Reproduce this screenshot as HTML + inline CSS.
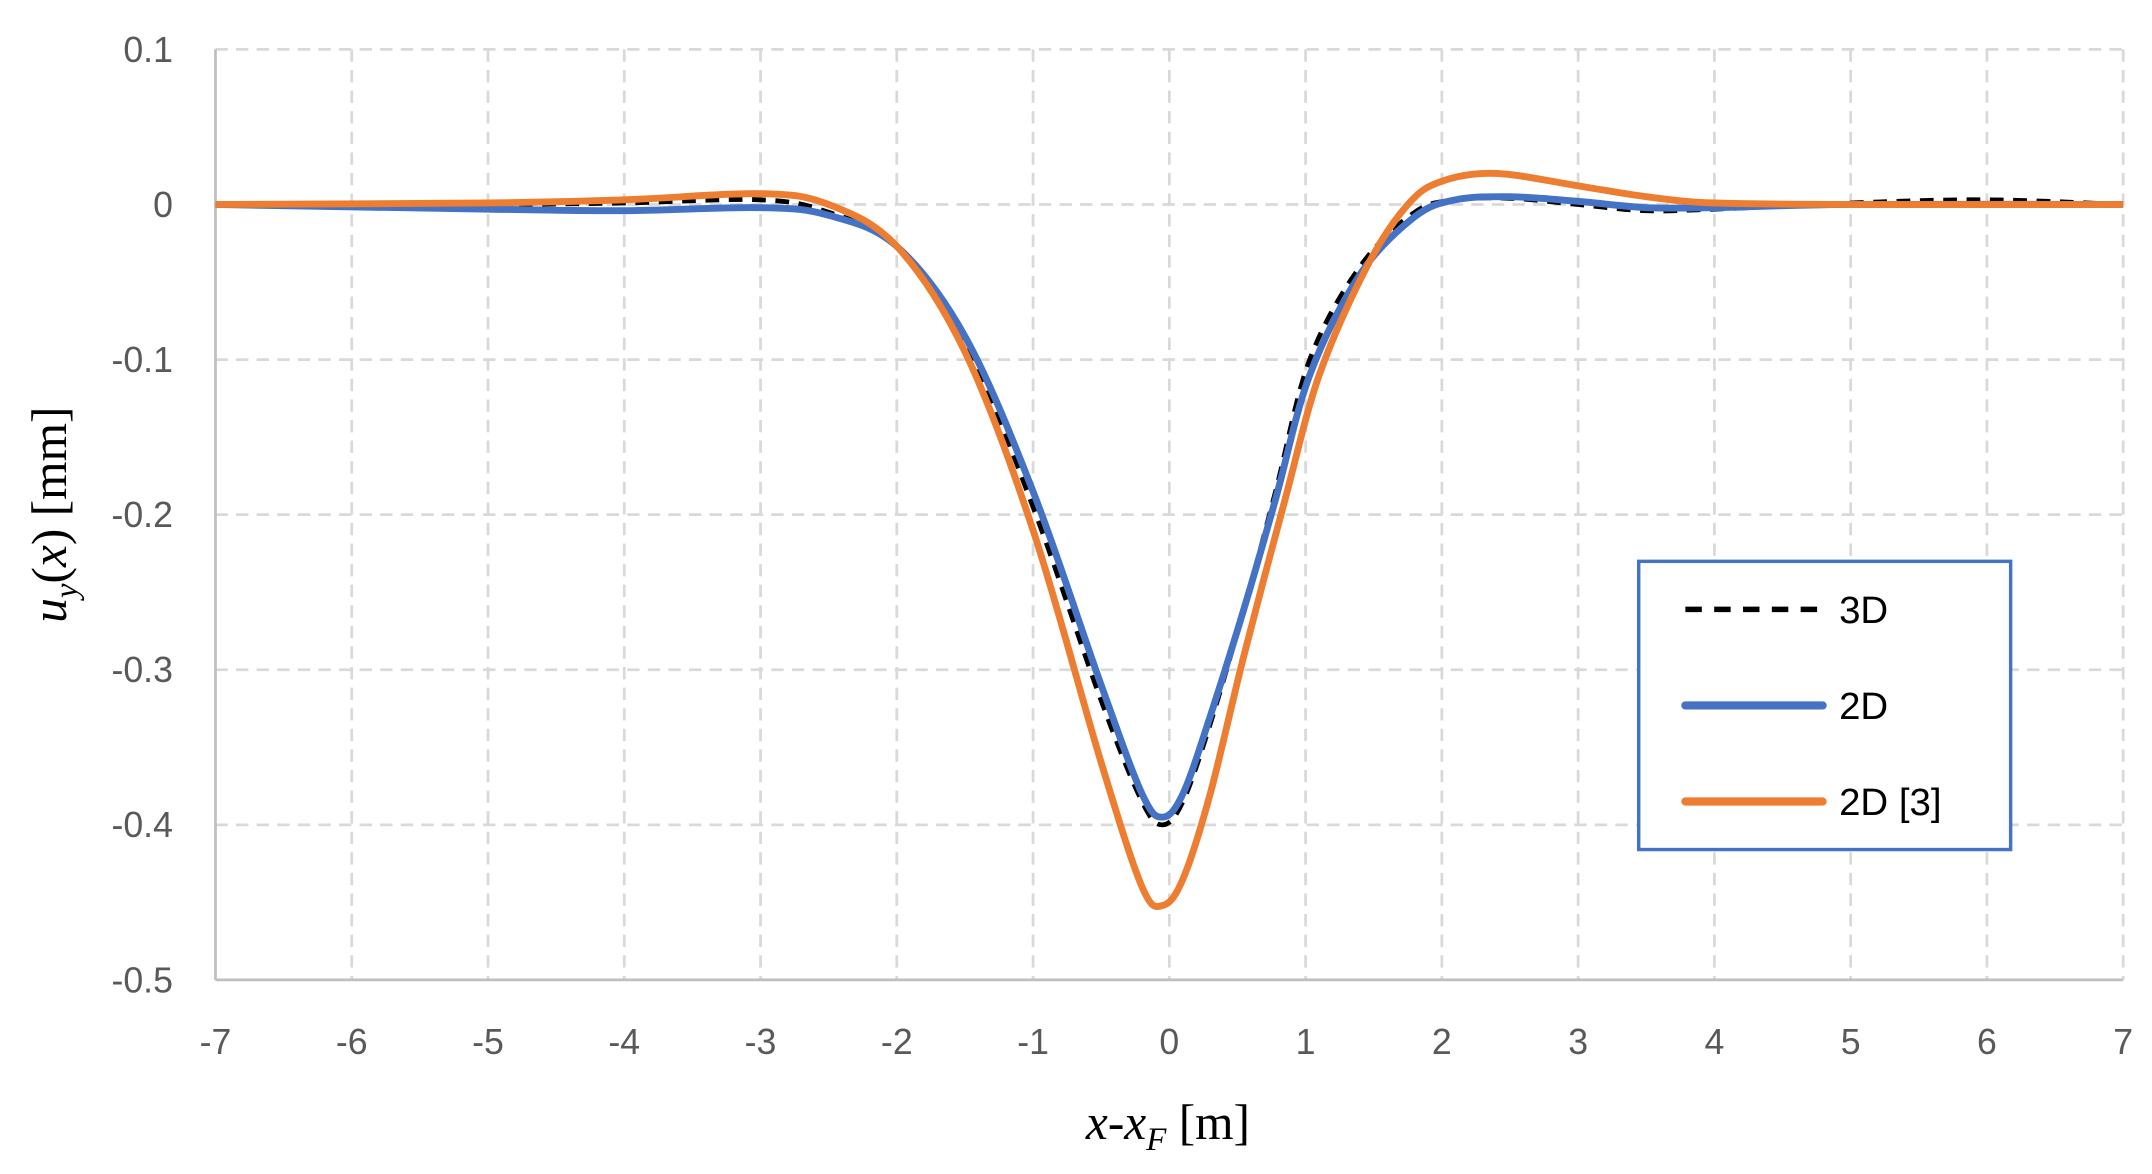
<!DOCTYPE html>
<html><head><meta charset="utf-8"><style>
html,body{margin:0;padding:0;background:#fff;}
svg{display:block;}
</style></head><body>
<svg id="s" width="2152" height="1174" viewBox="0 0 1568 855.4" preserveAspectRatio="none" xmlns="http://www.w3.org/2000/svg">
<g id="grid" stroke="#d9d9d9" stroke-width="2" stroke-dasharray="9,6" fill="none"></g>
<line x1="157" y1="36" x2="157" y2="714" stroke="#bfbfbf" stroke-width="2"/>
<line x1="157" y1="714" x2="1547" y2="714" stroke="#bfbfbf" stroke-width="2"/>
<g id="labels" font-family="Liberation Sans, sans-serif" font-size="26" fill="#595959"></g>
<path id="pk" fill="none" stroke="#000" stroke-width="3.5" stroke-dasharray="10,7"/>
<path id="pb" fill="none" stroke="#4472c4" stroke-width="5"/>
<path id="po" fill="none" stroke="#ed7d31" stroke-width="5"/>
<rect x="1194" y="409" width="271" height="210" fill="#fff" stroke="#4472c4" stroke-width="2.5"/>
<line x1="1228" y1="444" x2="1328" y2="444" stroke="#000" stroke-width="4" stroke-dasharray="12,9"/>
<line x1="1228" y1="514" x2="1328" y2="514" stroke="#4472c4" stroke-width="6" stroke-linecap="round"/>
<line x1="1228" y1="584" x2="1328" y2="584" stroke="#ed7d31" stroke-width="6" stroke-linecap="round"/>
<g font-family="Liberation Sans, sans-serif" font-size="28" fill="#000">
<text x="1340" y="454">3D</text><text x="1340" y="524">2D</text><text x="1340" y="594">2D [3]</text>
</g>
<text x="851" y="830" text-anchor="middle" font-family="Liberation Serif, serif" font-size="36" fill="#000"><tspan font-style="italic">x</tspan>-<tspan font-style="italic">x</tspan><tspan font-style="italic" font-size="24" dy="8">F</tspan><tspan dy="-8"> [m]</tspan></text>
<text transform="translate(48,375) rotate(-90)" text-anchor="middle" font-family="Liberation Serif, serif" font-size="36" fill="#000"><tspan font-style="italic">u</tspan><tspan font-style="italic" font-size="24" dy="8">y</tspan><tspan dy="-8">(</tspan><tspan font-style="italic">x</tspan>) [mm]</text>
</svg>
<script>
var NS="http://www.w3.org/2000/svg";
var SX=1390/14;
function X(x){return 157+SX*(x+7);}
function Y(u){return 149-1130*u;}
var g=document.getElementById('grid'),L=document.getElementById('labels');
for(var i=-6;i<=7;i++){var l=document.createElementNS(NS,'line');l.setAttribute('x1',X(i));l.setAttribute('x2',X(i));l.setAttribute('y1',36);l.setAttribute('y2',714);g.appendChild(l);}
for(var j=-4;j<=1;j++){var l=document.createElementNS(NS,'line');l.setAttribute('x1',157);l.setAttribute('x2',1547);l.setAttribute('y1',Y(j/10));l.setAttribute('y2',Y(j/10));g.appendChild(l);}
for(var i=-7;i<=7;i++){var t=document.createElementNS(NS,'text');t.setAttribute('x',X(i));t.setAttribute('y',768);t.setAttribute('text-anchor','middle');t.textContent=(i<0?'-'+(-i):''+i);L.appendChild(t);}
var yl=['0.1','0','-0.1','-0.2','-0.3','-0.4','-0.5'];
for(var j=0;j<7;j++){var t=document.createElementNS(NS,'text');t.setAttribute('x',126);t.setAttribute('y',Y((1-j)/10)+9);t.setAttribute('text-anchor','end');t.textContent=yl[j];L.appendChild(t);}
function path(pts){
 var P=pts.map(function(p){return [X(p[0]),Y(p[1])];});
 var d='M'+P[0][0]+','+P[0][1];
 for(var i=0;i<P.length-1;i++){
  var p0=P[Math.max(i-1,0)],p1=P[i],p2=P[i+1],p3=P[Math.min(i+2,P.length-1)];
  var c1=[p1[0]+(p2[0]-p0[0])/6,p1[1]+(p2[1]-p0[1])/6],c2=[p2[0]-(p3[0]-p1[0])/6,p2[1]-(p3[1]-p1[1])/6];
  d+='C'+c1[0].toFixed(1)+','+c1[1].toFixed(1)+' '+c2[0].toFixed(1)+','+c2[1].toFixed(1)+' '+p2[0].toFixed(1)+','+p2[1].toFixed(1);
 }return d;}
var blue=[[-7,0],[-5,-0.003],[-4,-0.004],[-3,-0.002],[-2.5,-0.007],[-2,-0.027],[-1.5,-0.085],[-1,-0.185],[-0.5,-0.31],[-0.2,-0.38],[-0.05,-0.395],[0.1,-0.38],[0.3,-0.33],[0.55,-0.26],[0.78,-0.19],[1.03,-0.11],[1.4,-0.045],[1.8,-0.008],[2.1,0.003],[2.5,0.005],[3,0.002],[3.5,-0.002],[4,-0.002],[5,0],[7,0]];
var black=[[-7,0],[-5,0],[-4,0.001],[-3,0.003],[-2.5,-0.005],[-2,-0.027],[-1.5,-0.088],[-1,-0.195],[-0.5,-0.32],[-0.2,-0.385],[-0.05,-0.4],[0.1,-0.385],[0.3,-0.335],[0.55,-0.26],[0.78,-0.185],[1.03,-0.1],[1.4,-0.04],[1.8,-0.005],[2.1,0.003],[2.5,0.004],[3,0],[3.5,-0.004],[4,-0.003],[5,0.001],[6,0.003],[7,0]];
var orange=[[-7,0],[-5,0.001],[-4,0.003],[-3,0.007],[-2.5,0.0],[-2,-0.027],[-1.5,-0.095],[-1,-0.21],[-0.5,-0.36],[-0.2,-0.44],[-0.05,-0.452],[0.1,-0.435],[0.3,-0.38],[0.55,-0.29],[0.85,-0.19],[1.1,-0.11],[1.45,-0.04],[1.75,0.0],[2.0,0.015],[2.4,0.02],[3,0.012],[3.5,0.005],[4,0.001],[5,0],[7,0]];
document.getElementById('pk').setAttribute('d',path(black));
document.getElementById('pb').setAttribute('d',path(blue));
document.getElementById('po').setAttribute('d',path(orange));
</script>
</body></html>
